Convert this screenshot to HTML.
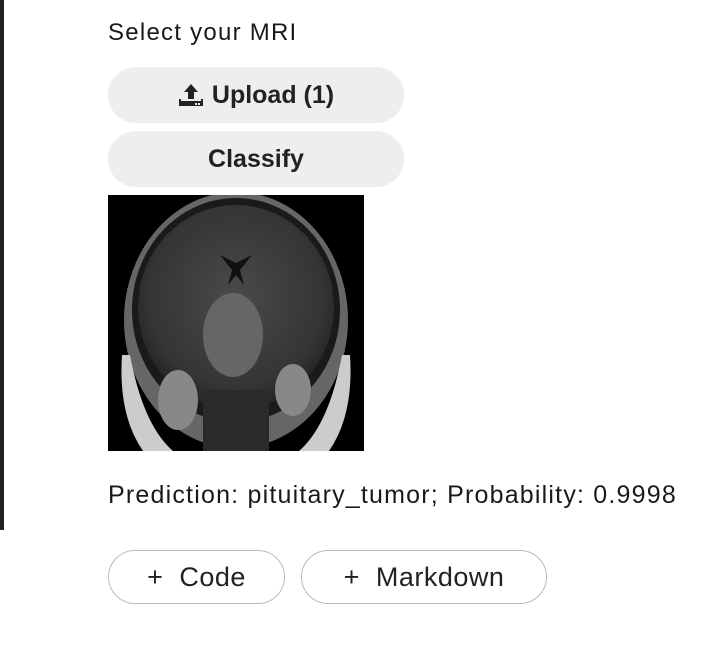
<!DOCTYPE html>
<html><head><meta charset="utf-8"><style>
body{margin:0;width:718px;height:661px;background:#fff;font-family:"Liberation Sans",Arial,sans-serif;position:relative;overflow:hidden;color:#1a1a1a}
.bar{position:absolute;left:0;top:0;width:4px;height:530px;background:#222}
.lbl{position:absolute;left:108px;top:19px;font-size:24px;letter-spacing:1.25px}
.btn{position:absolute;left:108px;width:296px;height:56px;border-radius:28px;background:#eeeeee;font-size:25px;font-weight:bold;display:flex;align-items:center;justify-content:center;color:#222}
.img{position:absolute;left:108px;top:195px;width:256px;height:256px;background:#000}
.pred{position:absolute;left:108px;top:481px;font-size:25px;letter-spacing:1.2px}
.nb{position:absolute;top:550px;height:52px;border:1.5px solid #bbb;border-radius:27px;background:#fff;font-size:27px;display:flex;align-items:center;justify-content:center;color:#222;letter-spacing:0.5px}
</style></head><body>
<div class="bar"></div>
<div class="lbl">Select your MRI</div>
<div class="btn" style="top:67px">
<svg width="26" height="26" viewBox="0 0 26 26" style="margin-right:8px"><path d="M13 2 L20 10 H16 V17 H10 V10 H6 Z" fill="#222"/><rect x="1" y="17" width="24" height="7" fill="#222"/><rect x="3" y="17" width="20" height="2" fill="#eee"/><rect x="17" y="21" width="2" height="2" fill="#eee"/><rect x="20" y="21" width="2" height="2" fill="#eee"/></svg>Upload (1)</div>
<div class="btn" style="top:131px">Classify</div>
<div class="img">
<svg width="256" height="256" viewBox="0 0 256 256">
<defs><radialGradient id="g" cx="50%" cy="45%" r="55%"><stop offset="0" stop-color="#4a4a4a"/><stop offset="0.8" stop-color="#353535"/><stop offset="1" stop-color="#252525"/></radialGradient></defs>
<ellipse cx="128" cy="125" rx="112" ry="128" fill="#666"/>
<ellipse cx="128" cy="115" rx="104" ry="112" fill="#1a1a1a"/>
<ellipse cx="128" cy="112" rx="98" ry="102" fill="url(#g)"/>
<path d="M112 60 L124 75 L120 90 L128 80 L136 90 L132 75 L144 60 L128 68 Z" fill="#111"/>
<ellipse cx="125" cy="140" rx="30" ry="42" fill="#666"/>
<path d="M22 160 Q35 230 65 256 L35 256 Q10 220 14 160Z" fill="#ccc"/>
<path d="M234 160 Q221 230 191 256 L221 256 Q246 220 242 160Z" fill="#ccc"/>
<ellipse cx="70" cy="205" rx="20" ry="30" fill="#888"/>
<ellipse cx="185" cy="195" rx="18" ry="26" fill="#888"/>
<rect x="95" y="195" width="66" height="61" fill="#2a2a2a"/>
</svg></div>
<div class="pred">Prediction: pituitary_tumor; Probability: 0.9998</div>
<div class="nb" style="left:108px;width:175px">+&nbsp; Code</div>
<div class="nb" style="left:301px;width:244px">+&nbsp; Markdown</div>
</body></html>
